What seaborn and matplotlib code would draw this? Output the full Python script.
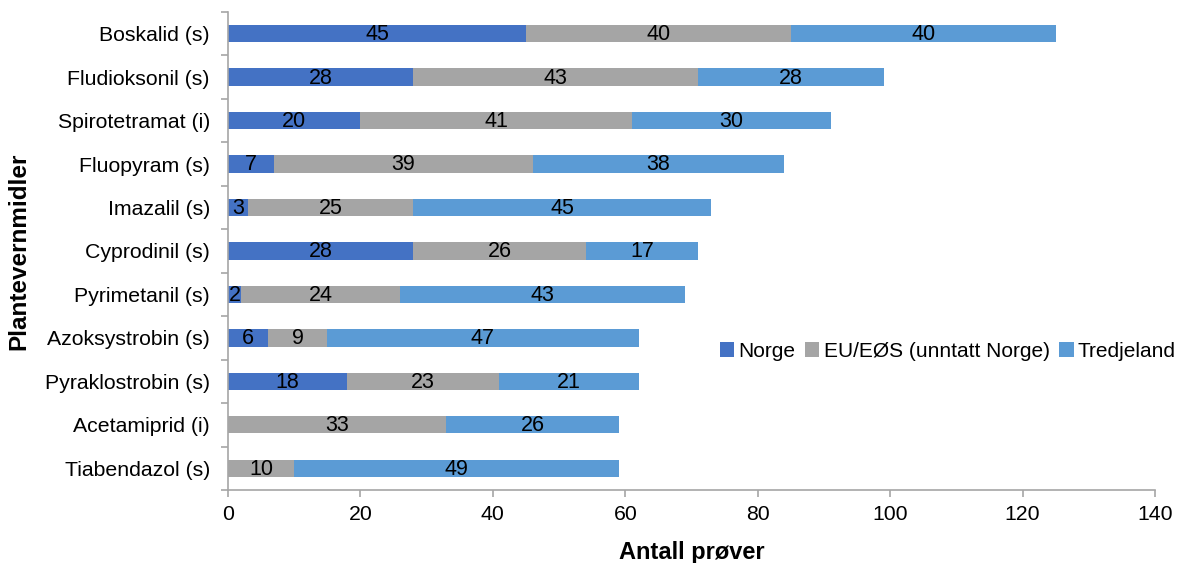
import matplotlib
matplotlib.use("Agg")
import matplotlib.pyplot as plt
from matplotlib.patches import Patch
import numpy as np
import pandas as pd
import seaborn as sns

# Pesticide residues: number of samples by origin
stoffer = [
    "Boskalid (s)", "Fludioksonil (s)", "Spirotetramat (i)", "Fluopyram (s)",
    "Imazalil (s)", "Cyprodinil (s)", "Pyrimetanil (s)", "Azoksystrobin (s)",
    "Pyraklostrobin (s)", "Acetamiprid (i)", "Tiabendazol (s)",
]
norge = [45, 28, 20, 7, 3, 28, 2, 6, 18, 0, 0]
eu_eos = [40, 43, 41, 39, 25, 26, 24, 9, 23, 33, 10]
tredjeland = [40, 28, 30, 38, 45, 17, 43, 47, 21, 26, 49]

serier = ["Norge", "EU/EØS (unntatt Norge)", "Tredjeland"]
farger = ["#4472C4", "#A5A5A5", "#5B9BD5"]

df = pd.DataFrame({"stoff": stoffer, serier[0]: norge, serier[1]: eu_eos, serier[2]: tredjeland})
df["cum_norge"] = df[serier[0]]
df["cum_eu"] = df[serier[0]] + df[serier[1]]
df["cum_total"] = df["cum_eu"] + df[serier[2]]

sns.set_theme(style="white")
plt.rcParams["font.family"] = ["Liberation Sans", "DejaVu Sans"]
plt.rcParams.update({"text.color": "black", "axes.labelcolor": "black",
                     "xtick.color": "black", "ytick.color": "black"})

fig = plt.figure(figsize=(11.78, 5.63), dpi=100)
ax = fig.add_axes([0.1935, 0.1297, 0.787, 0.849])

# Stacked bars drawn as overlapping cumulative totals
for col, farge in zip(["cum_total", "cum_eu", "cum_norge"], farger[::-1]):
    sns.barplot(data=df, x=col, y="stoff", order=stoffer, color=farge,
                width=0.4, orient="h", linewidth=0, saturation=1, ax=ax)

# Segment value labels
for i, row in df.iterrows():
    start = 0
    for s in serier:
        v = row[s]
        if v > 0:
            ax.text(start + v / 2, i + 0.02, f"{v}", ha="center", va="center",
                    fontsize=15.5, color="black")
        start += v

ax.set_xlim(0, 140)
ax.set_ylim(len(stoffer) - 0.5, -0.5)
ax.set_xticks(np.arange(0, 141, 20))
ax.set_xlabel("Antall prøver", fontsize=17, fontweight="bold", labelpad=12)
ax.set_ylabel("Plantevernmidler", fontsize=17.5, fontweight="bold", labelpad=10)

spine_col = "#A6A6A6"
for side in ["top", "right"]:
    ax.spines[side].set_visible(False)
for side in ["left", "bottom"]:
    ax.spines[side].set_color(spine_col)
    ax.spines[side].set_linewidth(1.2)

ax.tick_params(axis="y", which="major", length=0, pad=13, labelsize=15.3)
ax.set_yticks(np.arange(-0.5, len(stoffer)), minor=True)
ax.tick_params(axis="y", which="minor", length=5, width=1.2, color=spine_col, left=True)
ax.tick_params(axis="x", which="major", length=5, width=1.2, color=spine_col,
               bottom=True, pad=6, labelsize=15.3)
for lbl in ax.get_xticklabels() + ax.get_yticklabels():
    lbl.set_color("black")

handles = [Patch(facecolor=f, edgecolor="none") for f in farger]
fig.legend(handles, serier, loc="center left", bbox_to_anchor=(0.611, 0.3765),
           ncol=3, frameon=False, fontsize=15, handlelength=0.7, handleheight=0.7,
           handletextpad=0.2, columnspacing=0.45, borderpad=0, borderaxespad=0)

fig.savefig("out.png", dpi=100)
